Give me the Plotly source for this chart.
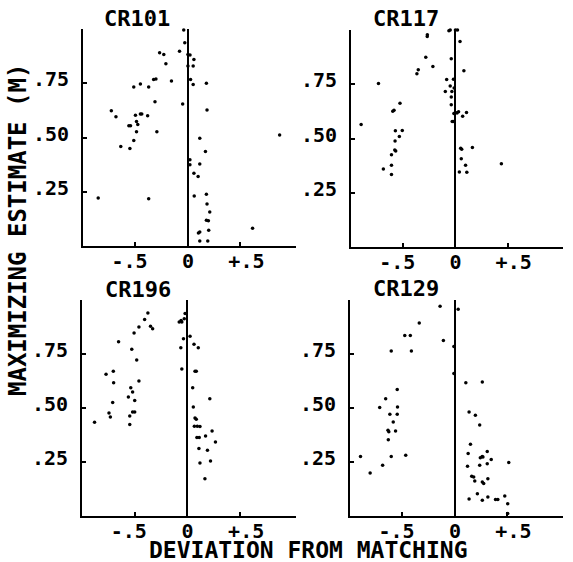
import plotly.graph_objects as go

# === Data (deviation from matching, maximizing estimate) ===
cr101_dev = [-0.04, -0.03, -0.08, -0.27, -0.23, -0.21, 0.0, 0.02, 0.057, 0.0, 0.05, 0.025, 0.05, 0.176,
             -0.157, -0.305, -0.327, -0.374, -0.453, -0.516, -0.314, -0.05, 0.182, -0.73, -0.686, -0.5,
             -0.453, -0.44, -0.384, -0.563, -0.547, -0.49, -0.478, -0.49, -0.296, -0.64, -0.553, -0.516,
             0.113, 0.167, 0.874, 0.019, 0.019, 0.113, 0.057, 0.097, 0.06, 0.176, 0.182, 0.208, 0.176,
             0.195, 0.113, 0.1, 0.198, 0.113, 0.189, 0.616, -0.855, -0.374]
cr101_est = [0.995, 0.937, 0.898, 0.89, 0.883, 0.84, 0.883, 0.88, 0.86, 0.83, 0.83, 0.767, 0.744, 0.75,
             0.76, 0.77, 0.767, 0.733, 0.747, 0.733, 0.665, 0.654, 0.627, 0.623, 0.596, 0.603,
             0.608, 0.608, 0.6, 0.554, 0.554, 0.574, 0.56, 0.526, 0.526, 0.458, 0.449, 0.486,
             0.497, 0.435, 0.511, 0.397, 0.374, 0.378, 0.335, 0.32, 0.23, 0.239, 0.193, 0.157, 0.119,
             0.116, 0.065, 0.06, 0.073, 0.023, 0.023, 0.082, 0.221, 0.218]

cr117_dev = [-0.269, -0.27, -0.0625, -0.05, 0.0, 0.02, 0.044, -0.284, -0.216, -0.356, -0.369, -0.04,
             0.081, -0.737, -0.084, -0.019, -0.05, -0.0125, -0.097, -0.034, -0.04, -0.04, -0.531,
             -0.588, -0.6, 0.0, 0.015, 0.03, -0.015, 0.106, 0.069, -0.031, -0.015, -0.903, -0.575,
             -0.509, -0.537, -0.578, -0.581, -0.572, -0.6125, 0.05, 0.06, 0.1625, 0.056, -0.6125,
             -0.69, -0.6125, 0.097, 0.0375, 0.109, 0.44]
cr117_est = [0.978, 0.97, 0.997, 1.0, 1.0, 1.0, 0.947, 0.874, 0.832, 0.817, 0.798, 0.868,
             0.812, 0.753, 0.772, 0.773, 0.742, 0.733, 0.717, 0.717, 0.691, 0.655, 0.663,
             0.63, 0.626, 0.62, 0.617, 0.623, 0.615, 0.62, 0.602, 0.578, 0.578, 0.564, 0.536,
             0.537, 0.509, 0.489, 0.447, 0.442, 0.425, 0.455, 0.45, 0.458, 0.407, 0.377,
             0.36, 0.334, 0.377, 0.346, 0.345, 0.384]

cr196_dev = [-0.375, -0.406, -0.46, -0.35, -0.33, -0.506, -0.653, -0.528, -0.481, -0.772, -0.703, -0.7,
             -0.46, -0.5375, -0.52, -0.56, -0.5, -0.709, -0.52, -0.5, -0.744, -0.731, -0.547, -0.547,
             -0.881, -0.022, -0.078, -0.053, -0.06, -0.03, -0.0375, -0.0625, -0.053, 0.025, 0.0625,
             0.103, 0.072, 0.084, 0.05, 0.056, 0.072, 0.084, 0.066, 0.094, 0.119, 0.2125, 0.234, 0.09,
             0.112, 0.172, 0.266, 0.109, 0.19, 0.119, 0.219, 0.166]
cr196_est = [0.94, 0.91, 0.875, 0.878, 0.867, 0.847, 0.807, 0.772, 0.722, 0.656, 0.67, 0.617,
             0.625, 0.594, 0.574, 0.551, 0.535, 0.526, 0.481, 0.481, 0.477, 0.458, 0.463, 0.424,
             0.434, 0.937, 0.898, 0.898, 0.905, 0.913, 0.821, 0.779, 0.681, 0.832, 0.795,
             0.779, 0.67, 0.67, 0.594, 0.505, 0.454, 0.448, 0.415, 0.415, 0.414, 0.543, 0.394, 0.363,
             0.363, 0.37, 0.343, 0.312, 0.304, 0.245, 0.255, 0.173]

cr129_dev = [-0.1415, -0.34, -0.478, -0.425, -0.415, -0.607, -0.11, -0.55, -0.66, -0.717, -0.547, -0.62,
             -0.55, -0.588, -0.638, -0.63, -0.566, -0.635, -0.607, -0.469, -0.9, -0.689, -0.808, 0.031,
             0.104, 0.261, 0.135, 0.195, 0.236, 0.148, 0.126, 0.12, 0.242, 0.267, 0.26, 0.236, 0.308,
             0.346, 0.308, 0.513, 0.16, 0.179, 0.189, 0.261, 0.274, 0.314, 0.214, 0.135, 0.261, 0.314,
             0.387, 0.409, 0.475, 0.503, 0.503, -0.01, -0.01]
cr129_est = [0.971, 0.894, 0.836, 0.836, 0.764, 0.764, 0.813, 0.586, 0.543, 0.502, 0.505, 0.471,
             0.471, 0.435, 0.397, 0.39, 0.394, 0.353, 0.276, 0.281, 0.276, 0.235, 0.199, 0.957,
             0.617, 0.62, 0.481, 0.466, 0.421, 0.332, 0.289, 0.23, 0.27, 0.273, 0.276, 0.235, 0.299,
             0.261, 0.242, 0.248, 0.184, 0.181, 0.162, 0.157, 0.15, 0.173, 0.103, 0.079, 0.073, 0.088,
             0.076, 0.076, 0.093, 0.057, 0.011, 0.66, 0.785]

panel_names = ["CR101", "CR117", "CR196", "CR129"]
x_ticks = [-0.5, 0, 0.5]
x_ticktext = ["-.5\u00a0", "0", "\u00a0+.5"]
y_ticks = [0.25, 0.5, 0.75, 1.0]
y_ticktext = [".25", ".50", ".75", ""]

# === Layout of the four panels (pixel positions from the scan) ===
W, H = 573, 562
FONT = "DejaVu Sans Mono"
panels = [
    (cr101_dev, cr101_est, (83, 296), (29, 246)),
    (cr117_dev, cr117_est, (351, 563), (30, 247)),
    (cr196_dev, cr196_est, (82, 296), (300, 516)),
    (cr129_dev, cr129_est, (350, 563), (300, 516)),
]

fig = go.Figure()
layout = {}
for i, (dev, est, (x0, x1), (top, bot)) in enumerate(panels, start=1):
    sfx = "" if i == 1 else str(i)
    fig.add_trace(go.Scatter(
        x=dev, y=est, mode="markers", xaxis="x" + sfx, yaxis="y" + sfx,
        marker=dict(color="black", size=3.5), cliponaxis=False, showlegend=False,
    ))
    layout["xaxis" + sfx] = dict(
        domain=[x0 / W, x1 / W], range=[-1, 1.03], anchor="y" + sfx,
        showline=True, linewidth=2, linecolor="black", showgrid=False,
        zeroline=True, zerolinecolor="black", zerolinewidth=2,
        tickvals=x_ticks, ticktext=x_ticktext, ticks="inside", ticklen=4, tickwidth=2,
        tickcolor="black", tickfont=dict(family=FONT, size=20, color="black", weight="bold"),
        ticklabelstandoff=-4,
    )
    layout["yaxis" + sfx] = dict(
        domain=[(H - bot) / H, (H - top) / H], range=[0, 1.0], anchor="x" + sfx,
        showline=True, linewidth=2, linecolor="black", showgrid=False, zeroline=False,
        tickvals=y_ticks, ticktext=y_ticktext, ticks="inside", ticklen=4, tickwidth=2,
        tickcolor="black", tickfont=dict(family=FONT, size=20, color="black", weight="bold"),
        ticklabelstandoff=8, ticklabelshift=-4,
    )

title_pos = [(137, 18), (406, 18), (138, 289), (406, 288)]
annotations = [
    dict(text=name, x=px / W, y=(H - py) / H, xref="paper", yref="paper", showarrow=False,
         xanchor="center", yanchor="middle",
         font=dict(family=FONT, size=22, color="black", weight="bold"))
    for name, (px, py) in zip(panel_names, title_pos)
]
annotations.append(dict(text="DEVIATION FROM MATCHING", x=308 / W, y=(H - 550) / H,
                        xref="paper", yref="paper", showarrow=False,
                        xanchor="center", yanchor="middle",
                        font=dict(family=FONT, size=23, color="black", weight="bold")))
annotations.append(dict(text="MAXIMIZING ESTIMATE (M)", x=18 / W, y=(H - 230) / H, textangle=-90,
                        xref="paper", yref="paper", showarrow=False,
                        xanchor="center", yanchor="middle",
                        font=dict(family=FONT, size=24, color="black", weight="bold")))

fig.update_layout(
    width=W, height=H, margin=dict(l=0, r=0, t=0, b=0),
    paper_bgcolor="white", plot_bgcolor="white",
    annotations=annotations, **layout,
)
fig.write_html("out.html", config={"displayModeBar": False},
               post_script="document.body.style.margin='0';")
